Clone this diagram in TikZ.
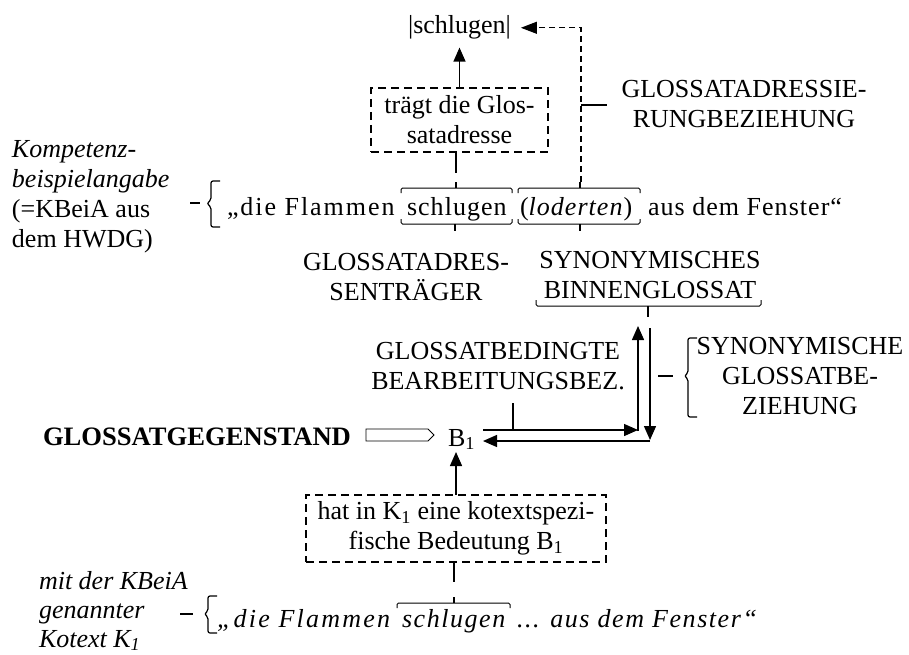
\documentclass[tikz,border=0pt]{standalone}
\usepackage{fontspec}
\setmainfont{Liberation Serif}
\newfontfamily\trackfont[LetterSpace=4]{Liberation Serif}
\newfontfamily\loosefont[LetterSpace=7.5]{Liberation Serif}
\newfontfamily\widefont[LetterSpace=6]{Liberation Serif}
\newfontfamily\widerfont[LetterSpace=8.5]{Liberation Serif}
\usetikzlibrary{arrows.meta}
\tikzset{
  every node/.style={inner sep=0pt, outer sep=0pt, font=\fontsize{26}{30}\selectfont},
  lbl/.style={align=center, anchor=base},
  lcol/.style={align=left, anchor=base west},
  wrd/.style={anchor=base west, font=\fontsize{26}{30}\selectfont\trackfont},
  iwrd/.style={anchor=base west, font=\fontsize{26}{30}\selectfont\widefont\itshape},
  dbox/.style={draw, line width=1.5pt, dash pattern=on 8pt off 5pt, align=center},
  arr/.style={line width=1.4pt, -{Triangle[length=14pt,width=12pt]}},
  darr/.style={line width=1.1pt, dash pattern=on 6pt off 4pt, -{Triangle[length=16pt,width=12pt]}},
  brk/.style={line width=1pt, rounded corners=1.5pt},
  tick/.style={line width=1.7pt},
  hollow/.style={line width=0.9pt},
  brace/.style={line width=1.2pt, rounded corners=2pt},
}
\begin{document}
\begin{tikzpicture}[x=1pt,y=-1pt]
\useasboundingbox (0,0) rectangle (909,655);

% --- upper part: lexical form and its gloss address ---
\node (sch) at (459.5,34) [anchor=base] {|schlugen|};
\node[dbox, minimum width=177pt, minimum height=64pt] (box1) at (459.5,120) {trägt die Glos-\\satadresse};
% multi-line labels are anchored at the baseline of their last line
\node[lbl] (adr) at (744,128) {GLOSSATADRESSIE-\\RUNGBEZIEHUNG};

% --- competence example with its parts ---
\node[lcol] (komp) at (12,247) {\textit{Kompetenz-}\\\textit{beispielangabe}\\(=KBeiA aus\\dem HWDG)};
\node[wrd, font=\fontsize{26}{30}\selectfont\loosefont] (s1) at (227,215) {„die Flammen};
\node[wrd] (s2) at (407,215) {schlugen};
\node[wrd] (s3) at (520,215) {(\textit{loderten})};
\node[wrd] (s4) at (648,215) {aus dem Fenster“};

\node[lbl] (gat) at (406,300) {GLOSSATADRES-\\SENTRÄGER};
\node[lbl] (sbg) at (650,298) {SYNONYMISCHES\\BINNENGLOSSAT};
\node[lbl] (gbb) at (498,389) {GLOSSATBEDINGTE\\BEARBEITUNGSBEZ.};
\node[lbl] (sgb) at (800,414) {SYNONYMISCHE\\GLOSSATBE-\\ZIEHUNG};

% --- meaning B1 ---
\node (gg) at (43,445) [anchor=base west, font=\fontsize{26.6}{30}\selectfont] {\textbf{GLOSSATGEGENSTAND}};
\node (b1) at (448,446) [anchor=base west] {B\textsubscript{1}};
\node[dbox, minimum width=300pt, minimum height=67pt] (box2) at (456,528.5) {hat in K\textsubscript{1} eine kotextspezi-\\fische Bedeutung B\textsubscript{1}};

% --- cotext K1 ---
\node[lcol, font=\fontsize{26}{29}\selectfont] (kot) at (39,647) {\itshape mit der KBeiA\\\itshape genannter\\\itshape Kotext K\textsubscript{1}};
\node[iwrd, font=\fontsize{26}{30}\selectfont\widerfont\itshape] (t1) at (217,627) {„die Flammen};
\node[iwrd] (t2) at (402,627) {schlugen};
\node[iwrd] (t3) at (517,627) {... aus dem Fenster“};

% bracket tick points
\coordinate (s2top) at (456,182);
\coordinate (s3top) at (581,182);
\coordinate (adrtick) at (581,105);
\coordinate (b1foot) at (456,452);
\coordinate (t2top) at (454,597);

% brackets over and under the words of the example
\draw[brk] (401,193) -- (401,188) -- (512,188) -- (512,193);
\draw[tick] (456,188) -- (s2top);
\draw[brk] (401,219) -- (401,224) -- (512,224) -- (512,219);
\draw[tick] (455,224) -- (455,231);
\draw[brk] (518,193) -- (518,188) -- (640,188) -- (640,193);
\draw[tick] (580,188) -- (580,182);
\draw[brk] (518,219) -- (518,224) -- (640,224) -- (640,219);
\draw[tick] (580,224) -- (580,231);
\draw[brk] (536,300) -- (536,306) -- (761,306) -- (761,300);
\draw[tick] (648,306) -- (648,317);
\draw[brk] (397,608) -- (397,603) -- (510,603) -- (510,608);
\draw[tick] (454,603) -- (t2top);

% connectors around the gloss address
\draw[arr, shorten >=8pt] (box1.north) -- (sch.south);
\draw[tick] (box1.south -| s2top) -- ++(0,21);
\draw[darr, shorten >=10pt] (s3top) |- (sch);
\draw[tick] (adrtick) -- ++(26,0);

% left braces
\draw[tick] (190,203) -- (200,203);
\draw[brace] (220,181) -- (211,181) -- (211,200) -- (207,203.5) -- (211,207) -- (211,227) -- (220,227);
\draw[tick] (658,376) -- (673,376);
\draw[brace] (697,338) -- (688,338) -- (688,373) -- (684.5,376) -- (688,379) -- (688,417) -- (697,417);
\draw[tick] (180,614) -- (193,614);
\draw[brace] (217,596) -- (208,596) -- (208,611) -- (204.5,614) -- (208,617) -- (208,633) -- (217,633);

% hollow arrow to B1
\draw[hollow] (366,429) -- (428,429) -- (434,435) -- (428,441) -- (366,441) -- cycle;

% arrows between B1 and the synonymous gloss
\coordinate (h1a) at (483,430);
\coordinate (h1b) at (638,430);
\coordinate (v1t) at (638,326);
\coordinate (v2t) at (650,328);
\coordinate (v2b) at (650,440);
\coordinate (h2b) at (650,441);
\coordinate (h2a) at (483,441);
\draw[arr] (h1a) -- (h1b);
\draw[arr] (638,431) -- (v1t);
\draw[arr] (v2t) -- (v2b);
\draw[arr] (h2b) -- (h2a);
\draw[tick] (513,403) -- (513,430);

% B1 and the cotext box
\draw[arr] (box2.north -| b1foot) -- (b1foot);
\draw[tick] (box2.south -| t2top) -- ++(0,20);
\end{tikzpicture}
\end{document}
